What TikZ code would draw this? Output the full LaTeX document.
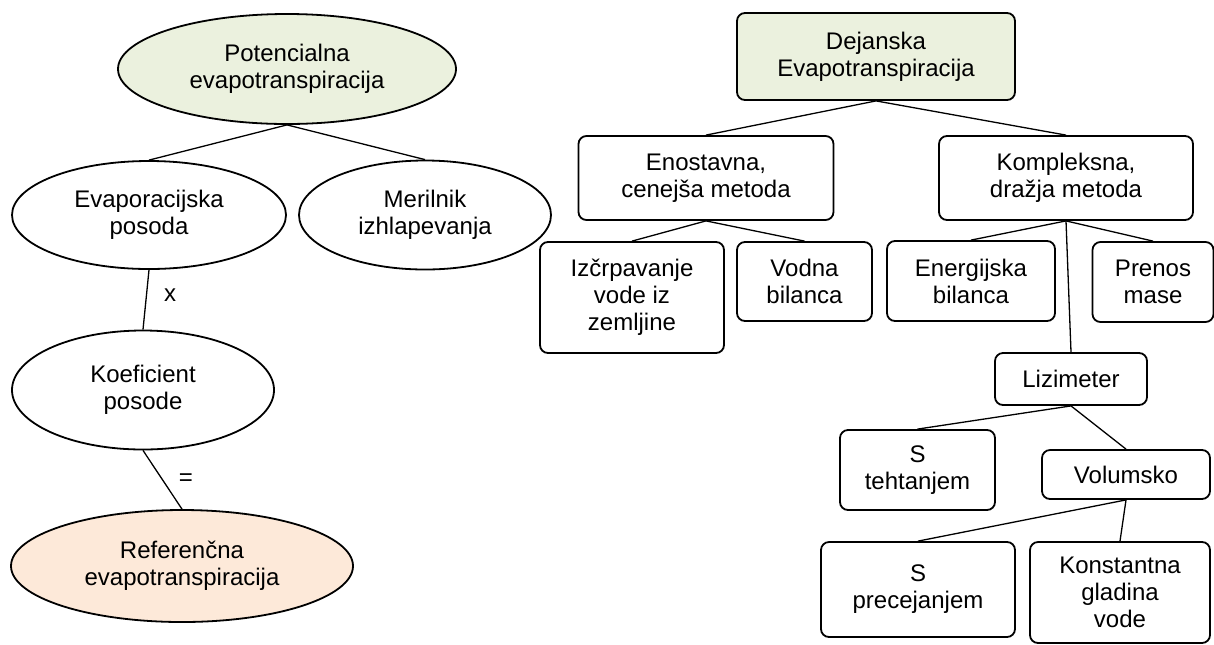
\documentclass[tikz,border=0pt]{standalone}
\usepackage{fontspec}
\setmainfont{Liberation Sans}
\usetikzlibrary{shapes.geometric}
\definecolor{olivefill}{HTML}{EBF1DE}
\definecolor{peachfill}{HTML}{FDE9D9}
\begin{document}
\begin{tikzpicture}[x=0.5pt,y=-0.5pt,
  every node/.style={font=\fontsize{12}{13.5}\selectfont,align=center,inner sep=0pt},
  oval/.style={ellipse,draw,line width=0.9pt},
  box/.style={rectangle,rounded corners=4pt,draw,line width=0.9pt},
  link/.style={line width=0.65pt}]
  \useasboundingbox (0,0) rectangle (1214,644);
  \node[oval,fill=olivefill,minimum width=169pt,minimum height=55pt] (pot) at (287,69) {Potencialna\\evapotranspiracija};
  \node[oval,minimum width=137pt,minimum height=54pt] (evap) at (149,215) {Evaporacijska\\posoda};
  \node[oval,minimum width=126pt,minimum height=54.5pt] (meril) at (425,215) {Merilnik\\izhlapevanja};
  \node[oval,minimum width=131pt,minimum height=59.5pt] (koef) at (143,390) {Koeficient\\posode};
  \node[oval,fill=peachfill,minimum width=171pt,minimum height=56pt] (refer) at (182,566) {Referenčna\\evapotranspiracija};
  \node (times) at (170,295) {x};
  \node (equals) at (186,480) {=};
  \draw[link] (pot.south)--(evap.north);
  \draw[link] (pot.south)--(meril.north);
  \draw[link] (evap.south)--(koef.north);
  \draw[link] (koef.south)--(refer.north);

  \node[box,fill=olivefill,minimum width=139pt,minimum height=43.5pt] (dej) at (876,56.5) {Dejanska\\Evapotranspiracija};
  \node[box,minimum width=127.5pt,minimum height=42pt] (enost) at (706,178) {Enostavna,\\cenejša metoda};
  \node[box,minimum width=127pt,minimum height=42pt] (kompl) at (1066,178) {Kompleksna,\\dražja metoda};
  \node[box,minimum width=92pt,minimum height=55.5pt] (izcrp) at (632,297.5) {Izčrpavanje\\vode iz\\zemljine};
  \node[box,minimum width=67.5pt,minimum height=39.5pt] (vodna) at (804.5,281.5) {Vodna\\bilanca};
  \node[box,minimum width=84pt,minimum height=40pt] (energ) at (971,281) {Energijska\\bilanca};
  \node[box,minimum width=60.5pt,minimum height=40pt] (prenos) at (1153,282) {Prenos\\mase};
  \node[box,minimum width=76pt,minimum height=26pt] (lizim) at (1071,379) {Lizimeter};
  \node[box,minimum width=77.5pt,minimum height=40pt] (tehtanje) at (917.5,470) {S\\tehtanjem};
  \node[box,minimum width=84pt,minimum height=24.5pt] (volum) at (1126,474.5) {Volumsko};
  \node[box,minimum width=97pt,minimum height=47.5pt] (precej) at (918,589.5) {S\\precejanjem};
  \node[box,minimum width=90pt,minimum height=50.5pt] (konst) at (1120,592.5) {Konstantna\\gladina\\vode};
  \draw[link] (dej.south)--(enost.north);
  \draw[link] (dej.south)--(kompl.north);
  \draw[link] (enost.south)--(izcrp.north);
  \draw[link] (enost.south)--(vodna.north);
  \draw[link] (kompl.south)--(energ.north);
  \draw[link] (kompl.south)--(prenos.north);
  \draw[link] (kompl.south)--(lizim.north);
  \draw[link] (lizim.south)--(tehtanje.north);
  \draw[link] (lizim.south)--(volum.north);
  \draw[link] (volum.south)--(precej.north);
  \draw[link] (volum.south)--(konst.north);
\end{tikzpicture}
\end{document}
